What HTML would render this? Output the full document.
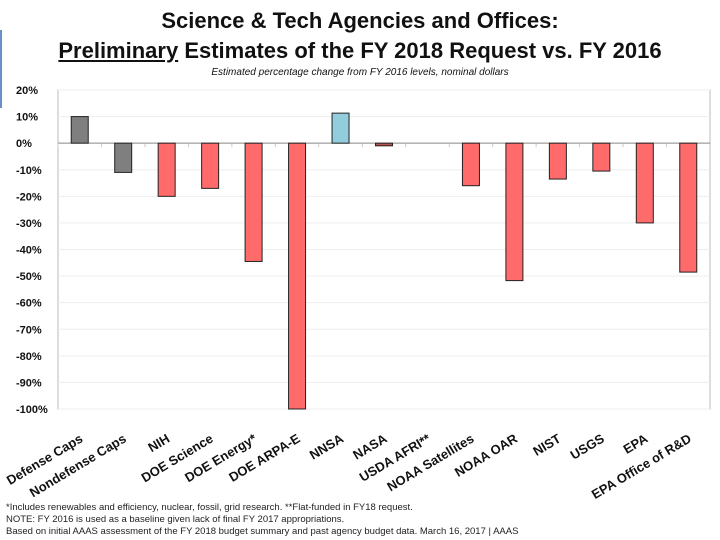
<!DOCTYPE html>
<html><head><meta charset="utf-8"><style>
body{margin:0;width:720px;height:540px;background:#fff;overflow:hidden;font-family:"Liberation Sans",sans-serif;position:relative}
.t{position:absolute;left:0;width:720px;text-align:center;font-weight:bold;color:#111}
.foot{position:absolute;left:6px;font-size:9.5px;color:#222;font-family:"Liberation Sans Narrow","Liberation Sans",sans-serif}
</style></head><body>
<div style="position:absolute;left:0;top:30px;width:2px;height:78px;background:#6a8fc4"></div>
<div class="t" style="top:8px;font-size:22px">Science &amp; Tech Agencies and Offices:</div>
<div class="t" style="top:38px;font-size:22px"><u>Preliminary</u> Estimates of the FY 2018 Request vs. FY 2016</div>
<div class="t" style="top:67px;font-size:10px;font-weight:normal;font-style:italic">Estimated percentage change from FY 2016 levels, nominal dollars</div>
<svg id="c" width="720" height="540" style="position:absolute;left:0;top:0"></svg>
<div class="foot" style="top:502px">*Includes renewables and efficiency, nuclear, fossil, grid research. **Flat-funded in FY18 request.</div>
<div class="foot" style="top:514px">NOTE: FY 2016 is used as a baseline given lack of final FY 2017 appropriations.</div>
<div class="foot" style="top:526px">Based on initial AAAS assessment of the FY 2018 budget summary and past agency budget data.  March 16, 2017 | AAAS</div>
<script>
const categories=["Defense Caps","Nondefense Caps","NIH","DOE Science","DOE Energy*","DOE ARPA-E","NNSA","NASA","USDA AFRI**","NOAA Satellites","NOAA OAR","NIST","USGS","EPA","EPA Office of R&D"];
const values=[10,-11,-20,-17,-44.5,-100,11.3,-1,0,-16,-51.7,-13.5,-10.5,-30,-48.5];
const colors=["#7f7f7f","#7f7f7f","#ff6b6b","#ff6b6b","#ff6b6b","#ff6b6b","#92cddc","#c0504d","#ff6b6b","#ff6b6b","#ff6b6b","#ff6b6b","#ff6b6b","#ff6b6b","#ff6b6b"];
const ticks=[20,10,0,-10,-20,-30,-40,-50,-60,-70,-80,-90,-100];
const NS="http://www.w3.org/2000/svg",svg=document.getElementById('c');
const X0=58,X1=710,Y0=90,Y1=409,vmax=20,vmin=-100;
const y=v=>Y0+(vmax-v)/(vmax-vmin)*(Y1-Y0);
const bw=(X1-X0)/categories.length;
const x=i=>X0+bw*(i+0.5);
function mk(t,a){const e=document.createElementNS(NS,t);for(const k in a)e.setAttribute(k,a[k]);svg.appendChild(e);return e;}
const frame=mk('rect',{x:X0,y:Y0,width:X1-X0,height:Y1-Y0,fill:'none',stroke:'#bbb'});


ticks.forEach(t=>{
 const g=mk('line',{x1:X0,x2:X1,y1:y(t),y2:y(t),stroke:t===0?'#888':'#eee','stroke-width':1});
 
 
 const l=mk('text',{x:X0-42,y:y(t)+4,'font-size':11,'font-weight':'bold',fill:'#111'});
 l.textContent=t+'%';
 
 
});
values.forEach((v,i)=>{
 const tk=mk('line',{x1:X0+bw*i,x2:X0+bw*i,y1:y(0),y2:y(0)+4,stroke:'#ccc'});
 
 
 const top=Math.min(y(v),y(0)),h=Math.abs(y(v)-y(0));
 const r=mk('rect',{x:x(i)-8.5,y:top,width:17,height:h,fill:colors[i],stroke:'#222','stroke-width':1});
 
 
 const lx=x(i)+4,ly=Y1+32;
 const t=mk('text',{x:lx,y:ly,'font-size':13,'font-weight':'bold','text-anchor':'end',fill:'#111',transform:`rotate(-31 ${lx} ${ly})`});
 t.textContent=categories[i];
 
 
});
</script>
</body></html>
